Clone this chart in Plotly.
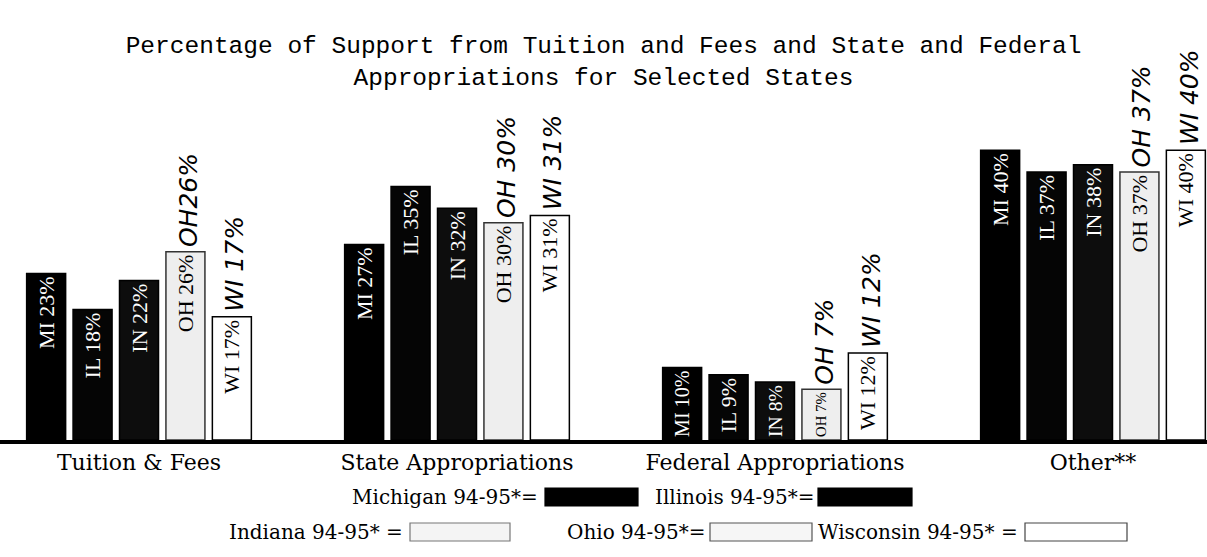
import plotly.graph_objects as go

categories = ["Tuition & Fees", "State Appropriations", "Federal Appropriations", "Other**"]
states = ["MI", "IL", "IN", "OH", "WI"]
legend_names = ["Michigan 94-95*=", "Illinois 94-95*=", "Indiana 94-95* =", "Ohio 94-95*=", "Wisconsin 94-95* ="]
mi = [23, 27, 10, 40]
il = [18, 35, 9, 37]
ind = [22, 32, 8, 38]
oh = [26, 30, 7, 37]
wi = [17, 31, 12, 40]
series = [mi, il, ind, oh, wi]
handwritten_oh = ["OH26%", "OH 30%", "OH 7%", "OH 37%"]
handwritten_wi = ["WI 17%", "WI 31%", "WI 12%", "WI 40%"]

fills = ["#000000", "#050505", "#0d0d0d", "#eeeeee", "#ffffff"]
lines = ["#000000", "#000000", "#000000", "#333333", "#000000"]
txtcol = ["white", "white", "white", "black", "black"]

W, H = 1207, 557
ML, MR, MT, MB = 0, 0, 114, 117
PH = H - MT - MB

fig = go.Figure()
for s, vals, fc, lc, tc in zip(states, series, fills, lines, txtcol):
    fig.add_trace(go.Bar(
        x=categories, y=vals, name=s,
        marker=dict(color=fc, line=dict(color=lc, width=1.5)),
        text=[f"{s} {v}%" for v in vals],
        textposition="inside", insidetextanchor="end", textangle=-90,
        insidetextfont=dict(family="Liberation Serif", size=22, color=tc),
        showlegend=False, hoverinfo="skip",
    ))

bargap = 0.27
bargroupgap = 0.16
cat_px = 318.0
pitch = cat_px * (1 - bargap) / 5

annotations = []
for i, c in enumerate(categories):
    for k, (txt, vals) in enumerate([(handwritten_oh, oh), (handwritten_wi, wi)]):
        annotations.append(dict(
            x=c, y=vals[i], xref="x", yref="y", text=txt[i],
            textangle=-90, showarrow=False, xanchor="center", yanchor="bottom",
            xshift=pitch * (1 + k) + 3, yshift=3,
            font=dict(family="DejaVu Sans", size=25, color="black", style="italic"),
        ))

def px_x(p):
    return (p - ML) / (W - ML - MR)

def px_y(p):
    return (H - MB - p) / PH

legend_items = [
    (legend_names[0], 540, 545, 638, 497, "#000000", "#000000"),
    (legend_names[1], 816, 818, 912, 497, "#000000", "#000000"),
    (legend_names[2], 405, 410, 510, 532, "#f4f4f4", "#777777"),
    (legend_names[3], 708, 710, 812, 532, "#f6f6f6", "#555555"),
    (legend_names[4], 1020, 1025, 1127, 532, "#ffffff", "#444444"),
]
shapes = []
for name, tx, b0, b1, cy, fc, lc in legend_items:
    annotations.append(dict(
        x=px_x(tx), y=px_y(cy), xref="paper", yref="paper", text=name,
        showarrow=False, xanchor="right", yanchor="middle",
        font=dict(family="DejaVu Serif", size=20, color="black"),
    ))
    shapes.append(dict(
        type="rect", xref="paper", yref="paper",
        x0=px_x(b0), x1=px_x(b1), y0=px_y(cy + 9), y1=px_y(cy - 9),
        fillcolor=fc, line=dict(color=lc, width=1.2),
    ))

r0 = -(139 - ML) / cat_px
r1 = (W - MR - 139) / cat_px

fig.update_layout(
    width=W, height=H,
    margin=dict(l=ML, r=MR, t=MT, b=MB),
    paper_bgcolor="white", plot_bgcolor="white",
    barmode="group", bargap=bargap, bargroupgap=bargroupgap,
    title=dict(
        text="Percentage of Support from Tuition and Fees and State and Federal<br>Appropriations for Selected States",
        x=0.5, xanchor="center", y=1 - 53 / H, yanchor="top", yref="container",
        font=dict(family="Liberation Mono", size=24.5, color="black"),
    ),
    xaxis=dict(
        range=[r0, r1], showline=True, linecolor="black", linewidth=3.5,
        showgrid=False, ticks="", zeroline=False,
        tickfont=dict(family="DejaVu Serif", size=22, color="black"),
    ),
    yaxis=dict(range=[0, 45], visible=False, showgrid=False, zeroline=False),
    annotations=annotations, shapes=shapes,
)

fig.write_html("out.html", config={"displayModeBar": False},
               post_script="document.body.style.margin='0px';")
